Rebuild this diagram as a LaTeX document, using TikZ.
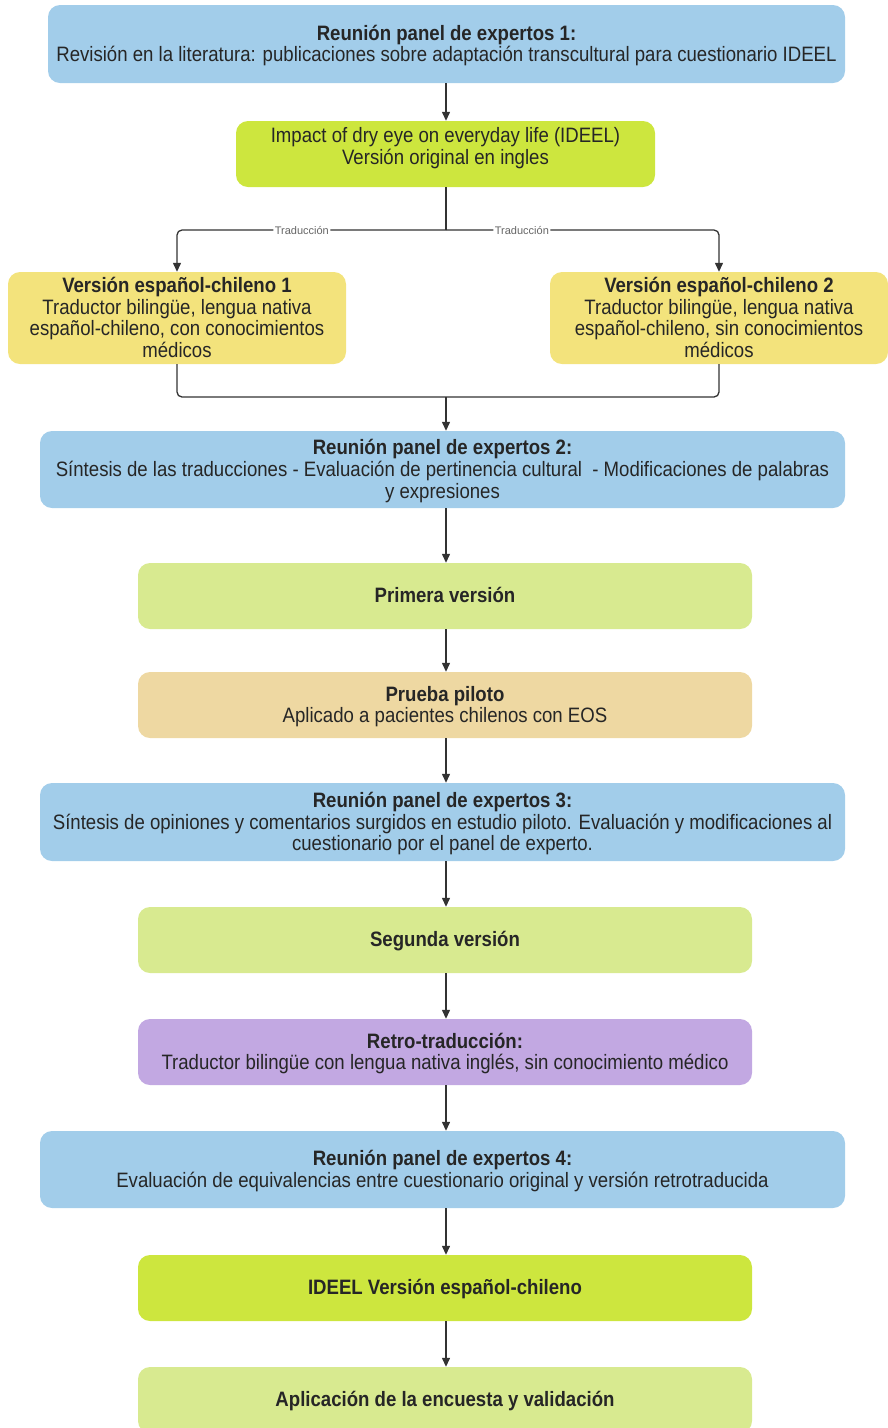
\documentclass[tikz,border=0pt]{standalone}
\usepackage{fontspec}
\setmainfont{Liberation Sans}
\usetikzlibrary{arrows.meta,calc}
\definecolor{cblue}{HTML}{A2CDEA}
\definecolor{cgreen}{HTML}{CDE63E}
\definecolor{cpale}{HTML}{D8EA90}
\definecolor{cyellow}{HTML}{F3E37C}
\definecolor{corange}{HTML}{EED8A2}
\definecolor{cpurple}{HTML}{C2A8E2}
\definecolor{ctext}{HTML}{262626}
\definecolor{cline}{HTML}{333333}
\newcommand{\vtxt}[1]{\raisebox{-2.5pt}[\height][\depth]{\scalebox{1}[1.12]{\begin{tabular}{@{}c@{}}#1\end{tabular}}}}
\tikzset{
  box/.style={rectangle, rounded corners=12pt, draw=none, align=center, text=ctext,
    font=\fontsize{18.6}{19.2}\selectfont, inner sep=0pt},
  conn/.style={draw=cline, line width=1.3pt},
  arr/.style={conn, -{Triangle[length=9pt,width=8pt]}},
  lbl/.style={fill=white, text=black!60, font=\fontsize{11}{12}\selectfont, inner sep=1.5pt},
}
\begin{document}
\begin{tikzpicture}[x=1pt,y=-1pt]
\useasboundingbox (0,0) rectangle (888,1428);
\node[box, fill=cblue, minimum width=797pt, minimum height=78pt] (b1) at (446.5,44)
  {\vtxt{\textbf{Reunión panel de expertos 1:}\\Revisión en la literatura: publicaciones sobre adaptación transcultural para cuestionario IDEEL}};
\node[box, fill=cgreen, minimum width=419pt, minimum height=66pt] (g1) at (445.5,154) {};
\node[align=center, text=ctext, font=\fontsize{18.6}{19.2}\selectfont, inner sep=0pt, anchor=north] (g1t) at (445.5,125)
  {\vtxt{Impact of dry eye on everyday life (IDEEL)\\Versión original en ingles}};
\node[box, fill=cyellow, minimum width=338pt, minimum height=92pt] (y1) at (177,318)
  {\vtxt{\textbf{Versión español-chileno 1}\\Traductor bilingüe, lengua nativa\\español-chileno, con conocimientos\\médicos}};
\node[box, fill=cyellow, minimum width=338pt, minimum height=92pt] (y2) at (719,318)
  {\vtxt{\textbf{Versión español-chileno 2}\\Traductor bilingüe, lengua nativa\\español-chileno, sin conocimientos\\médicos}};
\node[box, fill=cblue, minimum width=805pt, minimum height=77pt] (b2) at (442.5,469.5)
  {\vtxt{\textbf{Reunión panel de expertos 2:}\\Síntesis de las traducciones - Evaluación de pertinencia cultural\ \ - Modificaciones de palabras\\y expresiones}};
\node[box, fill=cpale, minimum width=614pt, minimum height=66pt] (p1) at (445,596)
  {\vtxt{\textbf{Primera versión}}};
\node[box, fill=corange, minimum width=614pt, minimum height=66pt] (pp) at (445,705)
  {\vtxt{\textbf{Prueba piloto}\\Aplicado a pacientes chilenos con EOS}};
\node[box, fill=cblue, minimum width=805pt, minimum height=78pt] (b3) at (442.5,822)
  {\vtxt{\textbf{Reunión panel de expertos 3:}\\Síntesis de opiniones y comentarios surgidos en estudio piloto. Evaluación y modificaciones al\\cuestionario por el panel de experto.}};
\node[box, fill=cpale, minimum width=614pt, minimum height=66pt] (s2) at (445,940)
  {\vtxt{\textbf{Segunda versión}}};
\node[box, fill=cpurple, minimum width=614pt, minimum height=66pt] (rt) at (445,1052)
  {\vtxt{\textbf{Retro-traducción:}\\Traductor bilingüe con lengua nativa inglés, sin conocimiento médico}};
\node[box, fill=cblue, minimum width=805pt, minimum height=77pt] (b4) at (442.5,1169.5)
  {\vtxt{\textbf{Reunión panel de expertos 4:}\\Evaluación de equivalencias entre cuestionario original y versión retrotraducida}};
\node[box, fill=cgreen, minimum width=614pt, minimum height=66pt] (ie) at (445,1288)
  {\vtxt{\textbf{IDEEL Versión español-chileno}}};
\node[box, fill=cpale, minimum width=614pt, minimum height=66pt] (ap) at (445,1400)
  {\vtxt{\textbf{Aplicación de la encuesta y validación}}};
% connectors
\coordinate (split) at (446,230);
\coordinate (merge) at (446,397);
\draw[arr] (b1.south -| 446,0) -- (g1.north -| 446,0);
\draw[conn] (g1.south -| 446,0) -- (split);
\draw[arr, rounded corners=5pt] (split) -| node[lbl, pos=0.268] {Traducción} (y1.north);
\draw[arr, rounded corners=5pt] (split) -| node[lbl, pos=0.139] {Traducción} (y2.north);
\draw[conn, rounded corners=5pt] (y1.south) |- (merge) -| (y2.south);
\draw[arr] (merge) -- (b2.north -| 446,0);
\draw[arr] (b2.south -| 446,0) -- (p1.north -| 446,0);
\draw[arr] (p1.south -| 446,0) -- (pp.north -| 446,0);
\draw[arr] (pp.south -| 446,0) -- (b3.north -| 446,0);
\draw[arr] (b3.south -| 446,0) -- (s2.north -| 446,0);
\draw[arr] (s2.south -| 446,0) -- (rt.north -| 446,0);
\draw[arr] (rt.south -| 446,0) -- (b4.north -| 446,0);
\draw[arr] (b4.south -| 446,0) -- (ie.north -| 446,0);
\draw[arr] (ie.south -| 446,0) -- (ap.north -| 446,0);
\end{tikzpicture}
\end{document}
